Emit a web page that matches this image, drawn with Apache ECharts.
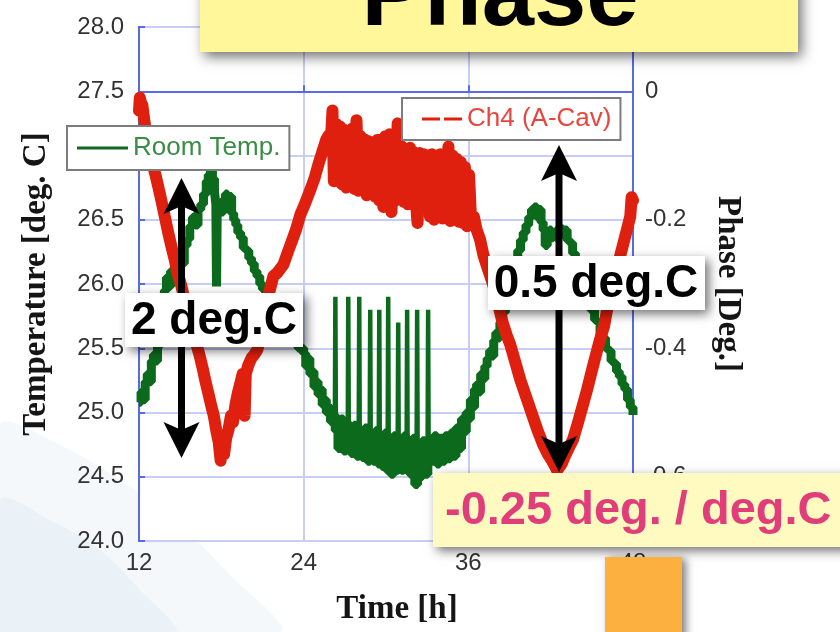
<!DOCTYPE html>
<html>
<head>
<meta charset="utf-8">
<script src="https://cdn.jsdelivr.net/npm/echarts@6/dist/echarts.min.js"></script>
<style>
  html, body { margin: 0; padding: 0; background: #ffffff; }
  #chart { width: 840px; height: 632px; }
</style>
</head>
<body>
<div id="chart"></div>
<script>
// Time axis [h] and tick values
const timeTicks = [12, 24, 36, 48];
const tempTicks = [24.0, 24.5, 25.0, 25.5, 26.0, 26.5, 27.0, 27.5, 28.0];
const phaseTicks = [0, -0.2, -0.4, -0.6];

// Room temperature [deg. C] vs time [h]
const roomTemp = [
  [12.00,25.08],[12.15,25.16],[12.30,25.10],[12.45,25.24],[12.60,25.30],[12.75,25.24],[12.90,25.40],
  [13.05,25.45],[13.20,25.40],[13.35,25.52],[13.55,25.62],[13.70,25.80],[13.85,25.95],[14.00,26.05],
  [14.15,25.98],[14.30,26.10],[14.50,26.04],[14.70,26.15],[14.90,26.22],[15.10,26.16],[15.30,26.30],
  [15.50,26.35],[15.70,26.45],[15.90,26.52],[16.10,26.46],[16.30,26.58],[16.50,26.62],[16.70,26.70],
  [16.90,26.80],[17.05,26.85],[17.20,26.90],[17.35,26.82],[17.50,26.72],[17.60,26.62],[17.65,25.98],
  [17.70,26.58],[17.85,26.62],[18.00,26.56],[18.15,26.66],[18.30,26.70],[18.45,26.62],[18.60,26.68],
  [18.75,26.55],[18.90,26.50],[19.05,26.46],[19.20,26.40],[19.40,26.36],[19.60,26.28],[19.80,26.26],
  [20.00,26.20],[20.20,26.16],[20.40,26.10],[20.60,26.06],[20.80,26.00],[21.00,25.96],[21.30,25.92],
  [21.60,25.84],[22.00,25.76],[22.40,25.68],[22.80,25.62],[23.20,25.56],[23.60,25.50],[24.00,25.46],
  [24.15,25.36],[24.30,25.42],[24.45,25.30],[24.60,25.32],[24.75,25.20],[24.90,25.24],[25.05,25.14],
  [25.20,25.18],[25.35,25.06],[25.50,25.10],[25.65,25.00],[25.80,25.04],[25.95,24.93],[26.10,24.98],
  [26.30,24.86],[26.50,24.72],[26.70,24.95],[26.90,24.70],[27.10,24.92],[27.25,24.82],[27.45,24.68],
  [27.65,24.90],[27.85,24.66],[28.05,24.85],[28.25,24.65],[28.45,24.88],[28.65,24.62],[28.85,24.80],
  [29.05,24.62],[29.25,24.86],[29.40,24.60],[29.55,24.78],[29.70,24.58],[29.90,24.84],[30.05,24.55],
  [30.20,24.76],[30.35,24.52],[30.55,24.82],[30.70,24.55],[30.90,24.78],[31.10,24.55],[31.30,24.82],
  [31.45,24.58],[31.60,24.76],[31.75,24.52],[31.95,24.80],[32.10,24.44],[32.30,24.74],[32.45,24.50],
  [32.65,24.78],[32.85,24.52],[33.05,24.78],[33.30,24.62],[33.50,24.82],[33.70,24.60],[33.90,24.80],
  [34.10,24.62],[34.30,24.82],[34.50,24.64],[34.70,24.84],[34.90,24.66],[35.10,24.88],[35.30,24.72],
  [35.50,24.95],[35.70,24.85],[35.85,25.00],[36.00,24.95],[36.15,25.10],[36.30,25.04],[36.45,25.18],
  [36.60,25.22],[36.75,25.16],[36.90,25.30],[37.05,25.26],[37.20,25.36],[37.37,25.42],[37.55,25.48],
  [37.70,25.44],[37.85,25.56],[38.00,25.62],[38.15,25.58],[38.30,25.70],[38.50,25.78],[38.70,25.85],
  [38.90,25.92],[39.10,26.02],[39.30,26.12],[39.45,26.20],[39.60,26.26],[39.80,26.34],[40.00,26.40],
  [40.20,26.46],[40.40,26.52],[40.60,26.58],[40.80,26.60],[41.00,26.52],[41.15,26.58],[41.30,26.48],
  [41.45,26.42],[41.60,26.30],[41.75,26.38],[41.90,26.42],[42.05,26.36],[42.20,26.40],[42.40,26.36],
  [42.60,26.44],[42.80,26.40],[43.00,26.42],[43.20,26.34],[43.40,26.32],[43.60,26.24],[43.80,26.20],
  [44.00,26.10],[44.30,26.00],[44.60,25.88],[44.90,25.80],[45.20,25.72],[45.40,25.70],[45.60,25.60],
  [45.80,25.58],[46.00,25.50],[46.20,25.48],[46.40,25.40],[46.60,25.38],[46.80,25.32],[47.00,25.28],
  [47.20,25.22],[47.40,25.18],[47.60,25.10],[47.80,25.04],[48.00,24.98]
];

// Short excursions of the room temperature between 26 h and 33 h
const roomTempSpikes = [
  [26.27,24.85],[26.31,25.90],[26.35,24.85],[27.21,24.80],[27.25,25.90],[27.29,24.80],
  [28.01,24.80],[28.05,25.90],[28.09,24.75],[28.81,24.75],[28.85,25.80],[28.89,24.72],
  [29.47,24.75],[29.51,25.80],[29.55,24.70],[30.12,24.72],[30.16,25.90],[30.20,24.65],
  [30.85,24.72],[30.89,25.70],[30.93,24.65],[31.50,24.70],[31.54,25.80],[31.58,24.60],
  [32.23,24.70],[32.27,25.80],[32.31,24.58],[33.03,24.72],[33.07,25.80],[33.11,24.62]
];

// Ch4 (A-Cav) phase [Deg.] vs time [h]
const ch4Phase = [
  [12.00,-0.030],[12.06,-0.010],[12.15,-0.018],[12.25,-0.022],[12.33,-0.036],[12.45,-0.055],[12.60,-0.072],
  [12.75,-0.090],[12.90,-0.100],[13.05,-0.118],[13.20,-0.130],[13.42,-0.150],[13.65,-0.172],[13.93,-0.200],
  [14.15,-0.222],[14.40,-0.245],[14.60,-0.262],[14.80,-0.282],[15.05,-0.300],[15.30,-0.322],[15.55,-0.345],
  [15.80,-0.365],[16.10,-0.387],[16.40,-0.410],[16.65,-0.432],[16.85,-0.452],[17.05,-0.470],[17.25,-0.488],
  [17.45,-0.505],[17.65,-0.530],[17.80,-0.545],[17.95,-0.575],[18.05,-0.555],[18.20,-0.565],[18.35,-0.540],
  [18.52,-0.527],[18.70,-0.505],[18.85,-0.515],[19.03,-0.488],[19.20,-0.470],[19.39,-0.454],[19.55,-0.440],
  [19.70,-0.505],[19.78,-0.440],[19.97,-0.426],[20.20,-0.415],[20.40,-0.410],[20.63,-0.402],[20.90,-0.375],
  [21.21,-0.348],[21.50,-0.312],[21.79,-0.288],[22.10,-0.282],[22.52,-0.270],[22.85,-0.250],[23.18,-0.231],
  [23.45,-0.215],[23.76,-0.192],[24.10,-0.175],[24.49,-0.153],[24.80,-0.135],[25.07,-0.114],[25.35,-0.095],
  [25.65,-0.075],[25.85,-0.068],
  [26.00,-0.070],[26.10,-0.030],[26.20,-0.140],[26.35,-0.050],[26.50,-0.135],[26.65,-0.055],[26.80,-0.145],
  [26.95,-0.060],[27.10,-0.150],[27.25,-0.062],[27.40,-0.148],[27.55,-0.058],[27.70,-0.152],[27.85,-0.045],
  [28.00,-0.155],[28.15,-0.070],[28.30,-0.150],[28.45,-0.075],[28.60,-0.162],[28.75,-0.078],[28.90,-0.158],
  [29.05,-0.080],[29.20,-0.164],[29.35,-0.076],[29.50,-0.170],[29.65,-0.075],[29.80,-0.180],[29.95,-0.070],
  [30.10,-0.172],[30.25,-0.067],[30.40,-0.188],[30.55,-0.072],[30.70,-0.170],[30.85,-0.050],[31.00,-0.168],
  [31.15,-0.086],[31.30,-0.172],[31.45,-0.090],[31.60,-0.176],[31.75,-0.088],[31.90,-0.175],[32.05,-0.095],
  [32.20,-0.178],[32.30,-0.205],[32.45,-0.096],[32.60,-0.180],[32.75,-0.098],[32.90,-0.184],[33.05,-0.100],
  [33.20,-0.195],[33.35,-0.098],[33.50,-0.200],[33.65,-0.101],[33.80,-0.192],[33.95,-0.098],[34.10,-0.198],
  [34.25,-0.100],[34.40,-0.196],[34.55,-0.086],[34.70,-0.202],[34.85,-0.100],[35.00,-0.200],[35.15,-0.105],
  [35.30,-0.203],[35.45,-0.110],[35.60,-0.205],[35.75,-0.118],[35.90,-0.210],[36.05,-0.130],[36.20,-0.200],
  [36.40,-0.195],[36.60,-0.215],[36.86,-0.231],[37.10,-0.255],[37.40,-0.275],[37.81,-0.301],[38.10,-0.325],
  [38.50,-0.360],[38.80,-0.380],[39.05,-0.394],[39.40,-0.420],[39.80,-0.450],[40.28,-0.480],[40.60,-0.500],
  [41.00,-0.525],[41.45,-0.550],[41.80,-0.565],[42.10,-0.575],[42.47,-0.590],[42.80,-0.580],[43.10,-0.565],
  [43.40,-0.552],[43.63,-0.542],[44.00,-0.515],[44.30,-0.492],[44.65,-0.465],[45.00,-0.435],[45.30,-0.410],
  [45.59,-0.387],[45.90,-0.365],[46.20,-0.330],[46.54,-0.298],[46.90,-0.270],[47.20,-0.245],[47.56,-0.215],
  [47.80,-0.195],[47.90,-0.165],[48.00,-0.170]
];

const GREEN = '#0c6a1d';
const RED = '#e0200e';
const AXIS_BLUE = '#5a6ae6';
const GRID_BLUE = '#c8cdf6';
const SANS = '"Liberation Sans", Arial, Helvetica, sans-serif';
const SERIF = '"Liberation Serif", "Times New Roman", serif';

function arrow(x, yTop, yBottom) {
  const hw = 18, hl = 36, notch = 28;
  return {
    type: 'group',
    children: [
      { type: 'line', z: 40, shape: { x1: x, y1: yTop + notch, x2: x, y2: yBottom - notch },
        style: { stroke: '#000', lineWidth: 7 } },
      { type: 'polygon', z: 40, shape: { points: [[x, yTop], [x - hw, yTop + hl], [x, yTop + notch], [x + hw, yTop + hl]] },
        style: { fill: '#000' } },
      { type: 'polygon', z: 40, shape: { points: [[x, yBottom], [x - hw, yBottom - hl], [x, yBottom - notch], [x + hw, yBottom - hl]] },
        style: { fill: '#000' } }
    ]
  };
}

function labelBox(x, y, w, h, fill, text, textColor, fontSize, tx, alignMode, z) {
  return {
    type: 'group',
    children: [
      { type: 'rect', z: z, shape: { x: x, y: y, width: w, height: h },
        style: { fill: fill, shadowBlur: 10, shadowColor: 'rgba(0,0,0,0.55)', shadowOffsetX: 4, shadowOffsetY: 4 } },
      { type: 'text', z: z + 1,
        style: { text: text, x: tx, y: y + h / 2 + 1, fill: textColor,
                 font: 'bold ' + fontSize + 'px ' + SANS,
                 align: alignMode, verticalAlign: 'middle' } }
    ]
  };
}

const chart = echarts.init(document.getElementById('chart'), null, { renderer: 'canvas' });

chart.setOption({
  animation: false,
  backgroundColor: '#ffffff',
  grid: {
    left: 139, right: 207, top: 27, bottom: 91,
    show: true, backgroundColor: '#ffffff', borderColor: AXIS_BLUE, borderWidth: 2
  },
  legend: [
    {
      data: ['Room Temp.'], left: 67, top: 126, orient: 'horizontal',
      backgroundColor: '#ffffff', borderColor: '#7c7c7c', borderWidth: 2,
      padding: [9, 9, 9, 10], itemWidth: 51, itemHeight: 3, icon: 'rect',
      itemStyle: { borderWidth: 0 }, selectedMode: false,
      textStyle: { color: '#3a8d45', fontSize: 26, fontFamily: SANS }
    },
    {
      data: ['Ch4 (A-Cav)'], left: 402, top: 98, orient: 'horizontal',
      backgroundColor: '#ffffff', borderColor: '#7c7c7c', borderWidth: 2,
      padding: [8, 9, 8, 20], itemWidth: 40, itemHeight: 3,
      icon: 'path://M0,0h18v3h-18z M22,0h18v3h-18z',
      itemStyle: { borderWidth: 0 }, selectedMode: false,
      textStyle: { color: '#e8453c', fontSize: 26, fontFamily: SANS }
    }
  ],
  xAxis: {
    type: 'value', min: timeTicks[0], max: timeTicks[timeTicks.length - 1], interval: 12,
    name: 'Time [h]', nameLocation: 'middle', nameGap: 52,
    nameTextStyle: { fontFamily: SERIF, fontWeight: 'bold', fontSize: 33, color: '#151515', padding: [0, 0, 0, 22] },
    axisLine: { show: true, lineStyle: { color: AXIS_BLUE, width: 2 } },
    axisTick: { show: true, inside: true, length: 6, lineStyle: { color: AXIS_BLUE, width: 2 } },
    splitLine: { show: true, lineStyle: { color: GRID_BLUE, width: 2 } },
    axisLabel: { margin: 10, fontSize: 24, color: '#333333', fontFamily: SANS }
  },
  yAxis: [
    {
      type: 'value', min: tempTicks[0], max: tempTicks[tempTicks.length - 1], interval: 0.5,
      name: 'Temperature [deg. C]', nameLocation: 'middle', nameRotate: 90, nameGap: 86,
      nameTextStyle: { fontFamily: SERIF, fontWeight: 'bold', fontSize: 33, color: '#151515' },
      axisLine: { show: true, lineStyle: { color: AXIS_BLUE, width: 2 } },
      axisTick: { show: true, inside: true, length: 6, lineStyle: { color: AXIS_BLUE, width: 2 } },
      splitLine: { show: true, lineStyle: { color: GRID_BLUE, width: 2 } },
      axisLabel: { margin: 15, fontSize: 24, color: '#333333', fontFamily: SANS,
                   formatter: v => v.toFixed(1) }
    },
    {
      type: 'value', min: -0.7, max: 0.1, interval: 0.1, position: 'right',
      name: 'Phase [Deg.]', nameLocation: 'middle', nameRotate: -90, nameGap: 78,
      nameTextStyle: { fontFamily: SERIF, fontWeight: 'bold', fontSize: 33, color: '#151515' },
      axisLine: { show: true, lineStyle: { color: AXIS_BLUE, width: 2 } },
      axisTick: { show: false },
      splitLine: { show: false },
      axisLabel: {
        margin: 12, fontSize: 24, color: '#333333', fontFamily: SANS,
        formatter: v => {
          const k = Math.round(v * 10);
          const hit = phaseTicks.find(p => Math.round(p * 10) === k);
          if (hit === undefined) return '';
          return hit === 0 ? '0' : hit.toFixed(1);
        }
      }
    }
  ],
  series: [
    {
      name: 'Room Temp.', type: 'line', yAxisIndex: 0, data: roomTemp,
      step: 'end', symbol: 'none', color: GREEN, z: 2,
      itemStyle: { color: GREEN },
      lineStyle: { color: GREEN, width: 9 }
    },
    {
      name: 'Room Temp.', type: 'line', yAxisIndex: 0, data: roomTempSpikes,
      symbol: 'none', color: GREEN, z: 2,
      itemStyle: { color: GREEN },
      lineStyle: { color: GREEN, width: 4.5 }
    },
    {
      name: 'Ch4 (A-Cav)', type: 'line', yAxisIndex: 1, data: ch4Phase,
      symbol: 'none', color: RED, z: 3,
      itemStyle: { color: RED },
      lineStyle: { color: RED, width: 12, join: 'round', cap: 'round' }
    }
  ],
  graphic: {
    elements: [
      // soft background swoosh, lower left
      { type: 'polygon', z: -5, silent: true,
        shape: { points: [[0,425],[60,445],[120,480],[180,525],[230,575],[280,632],[0,632]], smooth: 0.3 },
        style: { fill: 'rgba(214,230,240,0.28)' } },
      { type: 'polygon', z: -5, silent: true,
        shape: { points: [[0,500],[50,520],[100,550],[140,590],[175,632],[0,632]], smooth: 0.3 },
        style: { fill: 'rgba(205,224,236,0.25)' } },

      arrow(181.5, 178, 458),
      arrow(559, 145, 472),

      labelBox(125, 293, 178, 54, '#ffffff', '2 deg.C', '#000000', 46, 214, 'center', 60),
      labelBox(488, 256, 217, 54, '#ffffff', '0.5 deg.C', '#000000', 46, 596, 'center', 60),
      labelBox(433, 473, 430, 74, '#fffbc0', '-0.25 deg. / deg.C', '#e23d7b', 47, 445, 'left', 70),

      // title banner
      { type: 'rect', z: 80, shape: { x: 200, y: -40, width: 598, height: 92 },
        style: { fill: '#fff799', shadowBlur: 12, shadowColor: 'rgba(0,0,0,0.55)', shadowOffsetX: 4, shadowOffsetY: 5 } },
      { type: 'text', z: 81,
        style: { text: 'Phase', x: 500, y: -1, fill: '#000000', font: 'bold 94px ' + SANS,
                 align: 'center', verticalAlign: 'middle' } },

      // orange tab
      { type: 'rect', z: 80, shape: { x: 605, y: 557, width: 77, height: 85 },
        style: { fill: '#fbb03f', shadowBlur: 8, shadowColor: 'rgba(0,0,0,0.5)', shadowOffsetX: 4, shadowOffsetY: 2 } }
    ]
  }
});
</script>
</body>
</html>
